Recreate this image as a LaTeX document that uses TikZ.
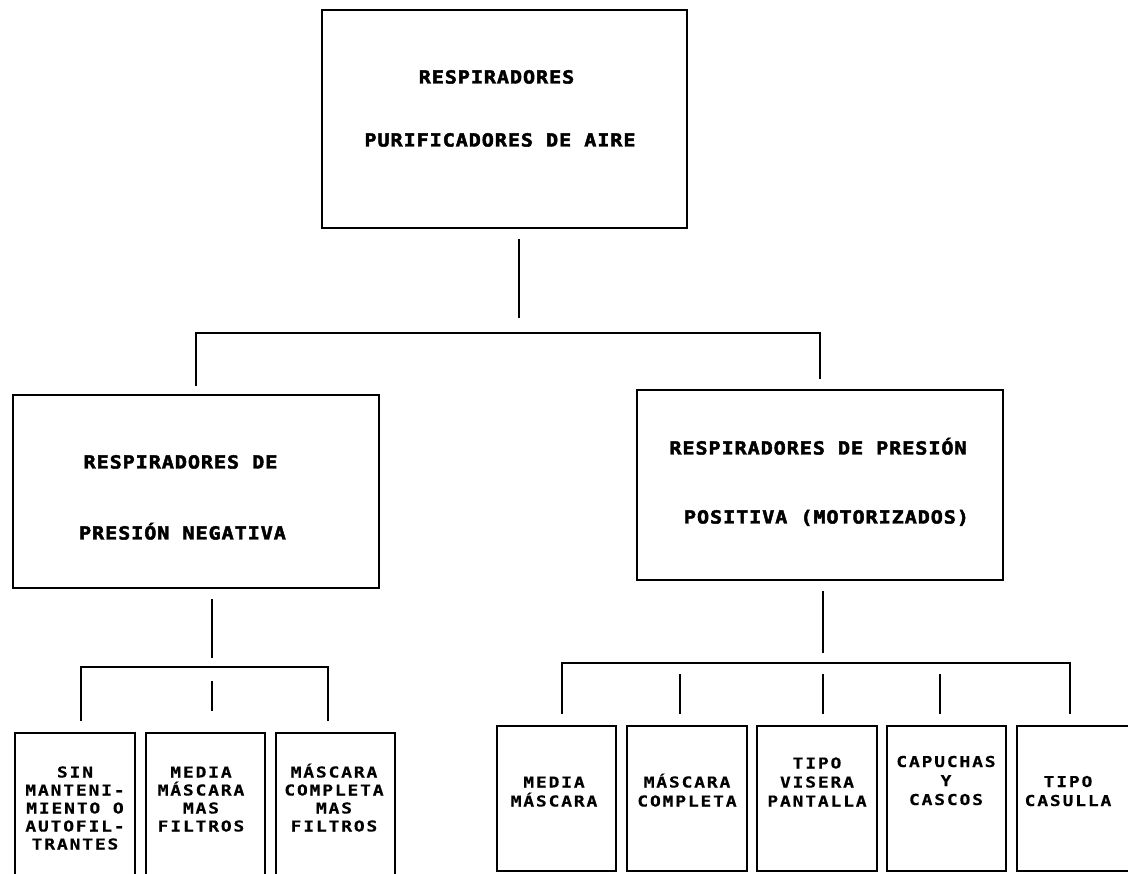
\documentclass[tikz,border=0pt]{standalone}
\usepackage{fontspec}
\newfontfamily\bigmono{DejaVu Sans Mono}[LetterSpace=5,FakeStretch=1.12,FakeBold=2.5]
\newfontfamily\smallmono{DejaVu Sans Mono}[LetterSpace=12,FakeStretch=1.2,FakeBold=0.3]

% one text line per row, stacked at a fixed step
\newcommand\stackrows[5]{%
  \foreach \rowtxt [count=\rowk] in {#5} {%
    \node[smalltext] (#1-\rowk) at ({#2},{#3+(\rowk-1)*#4}) {\rowtxt};}}

\tikzset{
  box/.style={draw, line width=2.8pt, inner sep=0pt},
  link/.style={draw, line width=2.6pt},
  bigtext/.style={font=\bigmono\bfseries\fontsize{18}{18}\selectfont, inner sep=0pt, anchor=base},
  smalltext/.style={font=\smallmono\bfseries\fontsize{15}{15}\selectfont, inner sep=0pt, anchor=base}
}

\begin{document}
\begin{tikzpicture}[x=1pt,y=-1pt]
\useasboundingbox (0,0) rectangle (1128,874);
\clip (0,0) rectangle (1128,874);

% ---- boxes ----
\node[box, minimum width=365pt, minimum height=218pt] (top) at (504.5,119) {};
\node[box, minimum width=366pt, minimum height=193pt] (neg) at (196,491.5) {};
\node[box, minimum width=366pt, minimum height=190pt] (pos) at (820,485) {};

\node[box, minimum width=120pt, minimum height=167pt] (s1) at (75,816.5) {};
\node[box, minimum width=119pt, minimum height=167pt] (s2) at (205.5,816.5) {};
\node[box, minimum width=119pt, minimum height=167pt] (s3) at (335.5,816.5) {};

\node[box, minimum width=119pt, minimum height=145pt] (r1) at (556.5,798.5) {};
\node[box, minimum width=120pt, minimum height=145pt] (r2) at (687,798.5) {};
\node[box, minimum width=120pt, minimum height=145pt] (r3) at (817,798.5) {};
\node[box, minimum width=119pt, minimum height=145pt] (r4) at (946.5,798.5) {};
\node[box, minimum width=126pt, minimum height=145pt] (r5) at (1080,798.5) {};

% ---- titles ----
\node[bigtext] (top-1) at (496.5,83.5) {RESPIRADORES};
\node[bigtext] (top-2) at (500,146.5) {PURIFICADORES DE AIRE};
\node[bigtext] (neg-1) at (180.5,468.5) {RESPIRADORES DE};
\node[bigtext] (neg-2) at (182.5,539.5) {PRESIÓN NEGATIVA};
\node[bigtext] (pos-1) at (818,454.5) {RESPIRADORES DE PRESIÓN};
\node[bigtext] (pos-2) at (826.5,523.5) {POSITIVA (MOTORIZADOS)};

% ---- leaf texts ----
\stackrows{t1}{75}{777.5}{18}{SIN,MANTENI-,MIENTO O,AUTOFIL-,TRANTES}
\stackrows{t2}{201}{777.5}{18}{MEDIA,MÁSCARA,MAS,FILTROS}
\stackrows{t3}{334}{777.5}{18}{MÁSCARA,COMPLETA,MAS,FILTROS}
\stackrows{u1}{554}{787.5}{19}{MEDIA,MÁSCARA}
\stackrows{u2}{687}{787.5}{19}{MÁSCARA,COMPLETA}
\stackrows{u3}{817}{768.5}{19}{TIPO,VISERA,PANTALLA}
\stackrows{u4}{946}{767}{19}{CAPUCHAS,Y,CASCOS}
\stackrows{u5}{1068}{787}{19}{TIPO,CASULLA}

% ---- bus levels ----
\coordinate (busT) at (519,333);
\coordinate (busN) at (0,667);
\coordinate (busP) at (0,663);

% top box to the two families
\draw[link] ([yshift=-10pt]top.south -| busT) -- ([yshift=15pt]busT);
\draw[link] ([yshift=8pt]neg.north) -- (neg.north |- busT) -- (pos.north |- busT) -- ([yshift=10pt]pos.north);

% negative-pressure family to its three leaves
\draw[link] ([xshift=16pt,yshift=-10pt]neg.south) -- ([xshift=16pt,yshift=9pt]neg.south |- busN);
\draw[link] ([xshift=6pt,yshift=11pt]s1.north) -- ([xshift=6pt]s1.north |- busN)
  -- ([xshift=-7.5pt]s3.north |- busN) -- ([xshift=-7.5pt,yshift=11pt]s3.north);
\draw[link] ([xshift=6.5pt,yshift=21pt]s2.north) -- ([xshift=6.5pt,yshift=51pt]s2.north);

% positive-pressure family to its five leaves
\draw[link] ([xshift=3pt,yshift=-10pt]pos.south) -- ([xshift=3pt,yshift=10pt]pos.south |- busP);
\draw[link] ([xshift=5.5pt,yshift=11pt]r1.north) -- ([xshift=5.5pt]r1.north |- busP)
  -- ([xshift=-10pt]r5.north |- busP) -- ([xshift=-10pt,yshift=11pt]r5.north);
\draw[link] ([xshift=-7pt,yshift=11pt]r2.north) -- ([xshift=-7pt,yshift=51pt]r2.north);
\draw[link] ([xshift=6pt,yshift=11pt]r3.north) -- ([xshift=6pt,yshift=51pt]r3.north);
\draw[link] ([xshift=-6.5pt,yshift=11pt]r4.north) -- ([xshift=-6.5pt,yshift=51pt]r4.north);
\end{tikzpicture}
\end{document}
